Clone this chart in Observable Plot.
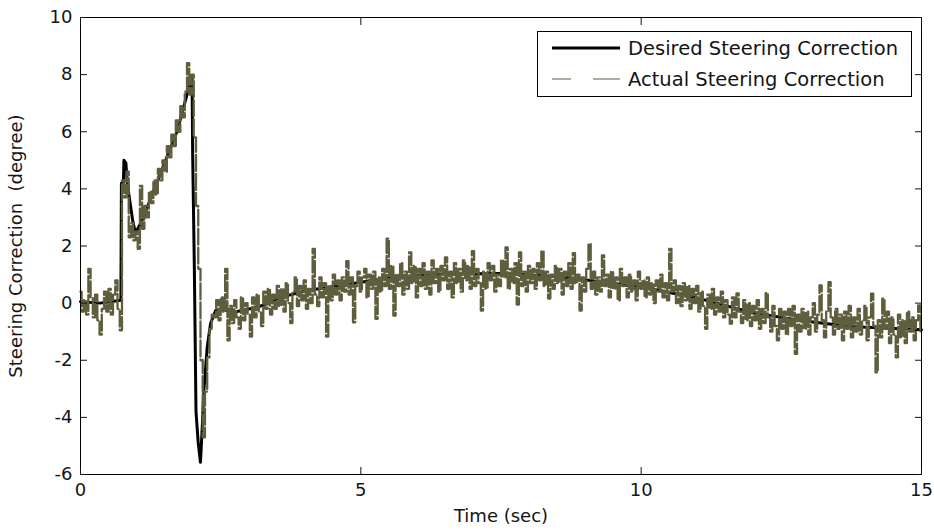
<!DOCTYPE html>
<html>
<head>
<meta charset="utf-8">
<script src="https://cdn.jsdelivr.net/npm/d3@7"></script>
<script src="https://cdn.jsdelivr.net/npm/@observablehq/plot@0.6"></script>
<style>
  body { margin: 0; background: #fff; }
  #wrap { position: relative; width: 934px; height: 531px; }
  #legend { position: absolute; left: 537px; top: 31px; width: 373px; height: 64px;
            border: 1px solid #000; background: #fff; font-family: "DejaVu Sans", sans-serif;
            font-size: 19.5px; color: #141414; }
  #legend .row { position: absolute; left: 0; display: flex; align-items: center; height: 30px; }
  #legend .row span { margin-left: 8px; white-space: nowrap; }
</style>
</head>
<body>
<div id="wrap"><div id="legend"></div></div>
<script>
// ---- data ----
const seriesNames = ["Desired Steering Correction", "Actual Steering Correction"];
const xTicks = [0, 5, 10, 15];
const yTicks = [-6, -4, -2, 0, 2, 4, 6, 8, 10];

// desired steering correction (time in s, value in degree)
const desiredTime = [0, 0.35, 0.72, 0.73, 0.765, 0.775, 0.81, 0.83, 0.87, 0.93, 0.98, 1.1, 1.3, 1.5, 1.72, 1.9, 1.99,
  2.0, 2.03, 2.06, 2.1, 2.14, 2.17, 2.2, 2.26, 2.32, 2.41, 2.5, 2.73, 3.17, 3.57, 4.04, 4.64, 5.23, 5.5, 6.4,
  7.5, 8.56, 9.27, 10.17, 11.06, 11.95, 12.84, 13.73, 14.62, 15];
const desiredValue = [0.05, 0.0, 0.1, 4.2, 4.2, 5.0, 4.9, 4.3, 3.7, 2.9, 2.45, 2.9, 3.9, 4.9, 6.0, 7.3, 7.9,
  5.3, 1.3, -3.8, -4.9, -5.57, -4.4, -3.06, -1.54, -0.71, -0.26, -0.2, -0.32, -0.14, 0.2, 0.44, 0.62, 0.8, 0.88, 1.02,
  1.04, 0.92, 0.75, 0.5, 0.15, -0.32, -0.61, -0.82, -0.9, -0.93];

// actual steering correction, sampled every actualStep seconds from t = 0
const actualStep = 0.04;
const actualValue = [
  0.4, -0.3, 0.1, -0.4, 1.2, 0.2, -0.5, 0.3, -0.6, -1.1, -0.2, 0.4, -0.3, 0.5, -0.4, 0.3, 0.8, -0.2, -0.95,
  4.3, 3.7, 4.6, 2.3, 2.8, 2.2, 2.5, 1.9,
  4.1, 2.6, 3.4, 3.0, 3.9, 3.5, 4.3, 3.8, 4.7, 4.3, 5.0, 4.6, 5.5, 5.1, 5.9, 5.5, 6.4, 6.0, 6.9, 6.5, 7.4, 8.4, 7.3, 8.0,
  5.8, 3.4, 1.2, -2.0, -4.7, -3.1, -1.9, -0.9, -0.4,
  -0.5, 0.1, -0.6, 0.2, -0.3, 1.2, -1.3, -0.1, -0.7, 0.1,
  -0.5, -0.9, 0.2, -0.6, 0.0, -0.4, -1.17, 0.2, -0.5, 0.3,
  -0.3, -0.8, 0.4, -0.2, 0.5, -0.4, 0.3, -0.2, 0.6, -0.1,
  0.5, -0.3, 0.7, 0.0, -0.7, 0.4, 0.9, -0.1, 0.6, 0.1,
  0.8, -0.2, 0.5, 0.0, 1.9, 0.3, -0.1, 0.9, 0.2, 0.7,
  -1.17, 0.6, 0.1, 1.0, 0.3, 0.8, 0.1, 0.9, 0.4, 1.47,
  0.3, 0.9, -0.67, 0.6, 1.1, 0.4, 0.9, 1.2, 0.2, 1.0,
  0.5, 1.1, -0.55, 0.9, 0.4, 1.2, 0.6, 2.26, 0.5, 1.3,
  -0.44, 1.0, 0.6, 1.4, 0.3, 1.1, 0.5, 1.78, 0.7, 1.3,
  0.2, 1.2, 0.6, 1.4, 0.5, 1.1, 0.3, 1.5, 0.7, 1.2,
  0.4, 1.3, 0.8, 1.6, 0.5, 1.1, 0.2, 1.4, 0.7, 1.2,
  0.4, 1.5, 0.8, 1.3, 0.5, 1.82, 0.6, 1.2, 0.7, -0.26,
  1.1, 0.5, 1.4, 0.8, 1.3, 0.4, 1.0, 0.6, 1.5, 0.9,
  1.95, 0.5, 1.2, 0.7, 1.4, -0.05, 1.78, 0.6, 1.1, 0.4,
  1.3, 0.7, 1.2, 0.5, 1.4, 0.8, 1.82, 0.6, 1.1, 0.16,
  1.0, 0.5, 1.3, 0.7, 1.2, 0.3, 1.1, 0.6, 1.4, 0.5,
  1.75, 0.7, 1.0, -0.26, 0.9, 0.4, 1.2, 2.07, 0.5, 1.1,
  0.3, 0.9, 0.4, 1.67, 0.6, 1.0, 0.2, 1.1, 0.5, 0.9,
  0.1, 1.2, 0.6, 0.9, 0.2, 1.0, 0.4, 0.8, 0.1, 1.1,
  0.5, 0.8, 0.2, 0.9, 0.3, 0.7, 0.0, 0.8, 0.4, 1.0,
  0.2, 0.7, 0.1, 1.9, 0.4, 0.8, 0.0, 0.6, -0.1, 0.7,
  0.1, 0.6, -0.2, 0.5, 0.0, 0.6, -0.3, 0.4, -0.1, -0.9,
  0.3, -0.2, 0.5, -0.4, 0.2, -0.3, 0.4, -0.5, 0.1, -0.4,
  -0.72, 0.2, -0.5, 0.34, -0.3, -0.7, 0.1, -0.6, 0.0, -0.8,
  -0.1, -0.6, 0.1, -0.9, -0.2, -0.7, 0.35, -0.5, -1.0, -0.1,
  -0.8, -1.3, -0.2, -0.9, -0.3, -1.1, -0.2, -0.8, -0.1, -1.78,
  -0.4, -1.0, -0.2, -0.9, -0.3, -1.1, -0.5, 0.0, -1.0, -0.4,
  0.62, -0.6, -1.2, -0.3, 0.73, -0.5, -1.1, -0.2, -0.9, -0.4,
  -1.3, -0.3, -0.9, -0.1, -1.2, -0.5, -1.0, -0.2, -1.1, -0.6,
  -0.1, -1.3, -0.5, 0.33, -0.8, -2.42, -0.6, -1.2, 0.16, -0.9,
  -0.3, -1.4, -0.5, -1.1, -1.9, -0.4, -1.2, -0.6, -1.4, -0.3,
  -1.0, -0.5, -1.3, -0.6, -0.08, -1.0
];

// ---- build tables ----
const desired = desiredTime.map((t, i) => ({t, v: desiredValue[i]}));
const actual = actualValue.map((v, i) => ({t: i * actualStep, v}));

const olive = "#5e5e3e";
const blank = () => "";

const chart = Plot.plot({
  width: 934,
  height: 531,
  marginLeft: 80,
  marginRight: 13,
  marginTop: 17,
  marginBottom: 57,
  style: {fontFamily: "DejaVu Sans, sans-serif", fontSize: "18px", color: "#141414", background: "#fff"},
  x: {domain: [0, 15]},
  y: {domain: [-6, 10]},
  marks: [
    Plot.line(desired, {x: "t", y: "v", stroke: "#000", strokeWidth: 3}),
    Plot.line(actual, {x: "t", y: "v", stroke: olive, strokeWidth: 2.3, curve: "step", strokeDasharray: "16,3"}),
    Plot.frame({stroke: "#000", strokeWidth: 1}),
    // labels
    Plot.axisX(xTicks, {anchor: "bottom", tickSize: 0, tickPadding: 9, tickFormat: d => String(d),
      label: "Time (sec)", labelAnchor: "center", labelOffset: 47, labelArrow: "none"}),
    Plot.axisY(yTicks, {anchor: "left", tickSize: 0, tickPadding: 8, tickFormat: d => String(d),
      label: "Steering Correction\u00a0 (degree)", labelAnchor: "center", labelOffset: 71, labelArrow: "none"}),
    // inward ticks on all four sides
    Plot.axisX(xTicks, {anchor: "bottom", tickSize: 7, dy: -7, tickFormat: blank, label: null}),
    Plot.axisX(xTicks, {anchor: "top", tickSize: 7, dy: 7, tickFormat: blank, label: null}),
    Plot.axisY(yTicks, {anchor: "left", tickSize: 7, dx: 7, tickFormat: blank, label: null}),
    Plot.axisY(yTicks, {anchor: "right", tickSize: 7, dx: -7, tickFormat: blank, label: null})
  ]
});
document.getElementById("wrap").prepend(chart);

// ---- legend ----
const legend = document.getElementById("legend");
const legendStyles = [
  {stroke: "#000", width: 3, dash: null},
  {stroke: olive, width: 1.2, dash: "19 22 28 10"}
];
seriesNames.forEach((name, i) => {
  const row = document.createElement("div");
  row.className = "row";
  row.style.top = (i === 0 ? 1 : 32) + "px";
  row.style.left = "14px";
  const s = legendStyles[i];
  row.innerHTML = `<svg width="68" height="10"><line x1="0" x2="68" y1="5" y2="5" stroke="${s.stroke}" stroke-width="${s.width}" ${s.dash ? `stroke-dasharray="${s.dash}"` : ""}/></svg><span>${name}</span>`;
  legend.appendChild(row);
});
</script>
</body>
</html>
